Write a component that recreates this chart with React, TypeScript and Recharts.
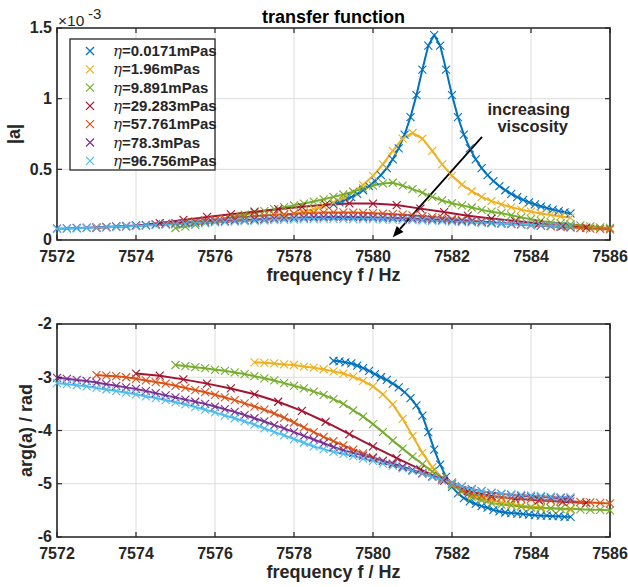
import { LineChart, Line, XAxis, YAxis, CartesianGrid, ReferenceArea, ReferenceLine } from 'recharts'

const FONT = '"Liberation Sans", Arial, Helvetica, sans-serif'
const INK = '#262626'
const GRID = '#dcdcdc'

const freqTicks = [7572, 7574, 7576, 7578, 7580, 7582, 7584, 7586]
const magTicks = [0, 0.5, 1, 1.5]
const phaseTicks = [-6, -5, -4, -3, -2]

const viscosities = ['0.0171', '1.96', '9.891', '29.283', '57.761', '78.3', '96.756']
const colors = ['#0072BD', '#EDB120', '#77AC30', '#A2142F', '#D95319', '#7E2F8E', '#4DBEEE']

// first frequency and spacing of each sweep (Hz)
const sweepStart = [7579, 7577, 7575, 7574, 7573, 7572, 7572]
const sweepStep = [0.15, 0.25, 0.25, 0.6, 0.25, 0.25, 0.25]

// |a| in units of 1e-3
const magBlue = [0.252, 0.267, 0.284, 0.304, 0.326, 0.352, 0.381, 0.417, 0.459, 0.509, 0.571, 0.648, 0.746, 0.87, 1.025, 1.206, 1.376, 1.45, 1.376, 1.206, 1.025, 0.87, 0.746, 0.648, 0.571, 0.509, 0.459, 0.417, 0.381, 0.352, 0.326, 0.304, 0.284, 0.267, 0.252, 0.238, 0.226, 0.215, 0.205, 0.196, 0.188]
const magYellow = [0.14, 0.148, 0.159, 0.17, 0.184, 0.199, 0.218, 0.239, 0.266, 0.298, 0.339, 0.389, 0.454, 0.535, 0.63, 0.718, 0.757, 0.718, 0.63, 0.535, 0.454, 0.392, 0.345, 0.305, 0.275, 0.252, 0.232, 0.215, 0.2, 0.188, 0.177, 0.167, 0.158]
const magGreen = [0.085, 0.095, 0.107, 0.12, 0.135, 0.15, 0.165, 0.18, 0.193, 0.205, 0.218, 0.232, 0.245, 0.258, 0.272, 0.288, 0.305, 0.322, 0.342, 0.365, 0.385, 0.4, 0.405, 0.385, 0.36, 0.335, 0.305, 0.28, 0.26, 0.245, 0.23, 0.213, 0.2, 0.19, 0.175, 0.16, 0.147, 0.135, 0.125, 0.118, 0.11, 0.104, 0.097, 0.09, 0.085]
const magRed = [0.1, 0.12, 0.142, 0.163, 0.182, 0.2, 0.218, 0.235, 0.25, 0.259, 0.258, 0.247, 0.222, 0.198, 0.172, 0.152, 0.134, 0.116, 0.098, 0.088]
const magOrange = [0.085, 0.089, 0.093, 0.097, 0.101, 0.106, 0.11, 0.115, 0.12, 0.126, 0.132, 0.138, 0.144, 0.15, 0.156, 0.162, 0.168, 0.173, 0.178, 0.182, 0.186, 0.189, 0.192, 0.194, 0.195, 0.195, 0.194, 0.192, 0.19, 0.187, 0.183, 0.179, 0.174, 0.168, 0.162, 0.156, 0.15, 0.143, 0.137, 0.131, 0.125, 0.12, 0.115, 0.11, 0.105, 0.101, 0.096, 0.092, 0.088, 0.085, 0.081, 0.078, 0.075]
const magPurple = [0.08, 0.082, 0.085, 0.087, 0.09, 0.093, 0.096, 0.099, 0.102, 0.105, 0.108, 0.112, 0.115, 0.119, 0.122, 0.126, 0.13, 0.134, 0.138, 0.141, 0.145, 0.148, 0.151, 0.154, 0.157, 0.159, 0.161, 0.162, 0.163, 0.163, 0.162, 0.161, 0.16, 0.158, 0.156, 0.154, 0.152, 0.149, 0.145, 0.142, 0.138, 0.134, 0.13, 0.126, 0.122, 0.118, 0.114, 0.111, 0.107, 0.104, 0.101, 0.098, 0.095]
const magLightBlue = [0.078, 0.08, 0.083, 0.085, 0.088, 0.091, 0.093, 0.096, 0.099, 0.102, 0.105, 0.108, 0.111, 0.114, 0.118, 0.121, 0.124, 0.127, 0.13, 0.133, 0.136, 0.138, 0.141, 0.143, 0.145, 0.147, 0.148, 0.149, 0.149, 0.149, 0.148, 0.148, 0.147, 0.145, 0.144, 0.142, 0.14, 0.138, 0.135, 0.133, 0.13, 0.127, 0.124, 0.121, 0.118, 0.115, 0.112, 0.109, 0.106, 0.104, 0.101, 0.098, 0.096]

// arg(a) in rad
const phBlue = [-2.69, -2.7, -2.72, -2.74, -2.78, -2.83, -2.88, -2.94, -3.0, -3.05, -3.12, -3.19, -3.28, -3.39, -3.53, -3.72, -4.03, -4.36, -4.64, -4.87, -5.06, -5.18, -5.27, -5.33, -5.38, -5.42, -5.45, -5.49, -5.52, -5.54, -5.55, -5.56, -5.57, -5.58, -5.59, -5.6, -5.6, -5.61, -5.61, -5.62, -5.62]
const phYellow = [-2.72, -2.73, -2.74, -2.76, -2.77, -2.8, -2.82, -2.85, -2.89, -2.93, -2.99, -3.07, -3.17, -3.32, -3.51, -3.78, -4.1, -4.42, -4.69, -4.89, -5.03, -5.13, -5.21, -5.27, -5.31, -5.35, -5.38, -5.41, -5.43, -5.44, -5.46, -5.47, -5.49]
const phGreen = [-2.77, -2.79, -2.81, -2.83, -2.86, -2.88, -2.91, -2.94, -2.98, -3.02, -3.06, -3.11, -3.16, -3.21, -3.27, -3.33, -3.41, -3.5, -3.62, -3.74, -3.88, -4.03, -4.19, -4.34, -4.49, -4.63, -4.77, -4.88, -5.01, -5.15, -5.25, -5.31, -5.36, -5.39, -5.41, -5.43, -5.45, -5.46, -5.46, -5.47, -5.47, -5.48, -5.49, -5.49, -5.5]
const phRed = [-2.93, -2.97, -3.04, -3.12, -3.21, -3.32, -3.46, -3.63, -3.84, -4.07, -4.3, -4.52, -4.73, -4.94, -5.14, -5.23, -5.28, -5.31, -5.34, -5.36]
const phOrange = [-2.96, -2.97, -2.98, -3.0, -3.03, -3.06, -3.09, -3.12, -3.16, -3.2, -3.24, -3.28, -3.33, -3.38, -3.43, -3.49, -3.55, -3.61, -3.68, -3.76, -3.85, -3.94, -4.03, -4.12, -4.2, -4.28, -4.36, -4.43, -4.5, -4.57, -4.63, -4.69, -4.75, -4.81, -4.87, -4.93, -5.0, -5.12, -5.19, -5.23, -5.25, -5.26, -5.27, -5.28, -5.29, -5.3, -5.31, -5.32, -5.33, -5.34, -5.35, -5.36, -5.37]
const phPurple = [-3.01, -3.03, -3.05, -3.07, -3.1, -3.13, -3.16, -3.19, -3.22, -3.26, -3.3, -3.34, -3.38, -3.42, -3.46, -3.5, -3.55, -3.6, -3.65, -3.71, -3.77, -3.83, -3.9, -3.96, -4.03, -4.1, -4.17, -4.24, -4.31, -4.37, -4.42, -4.47, -4.52, -4.57, -4.62, -4.68, -4.74, -4.8, -4.86, -4.92, -4.98, -5.05, -5.1, -5.14, -5.17, -5.19, -5.21, -5.23, -5.24, -5.25, -5.26, -5.27, -5.28]
const phLightBlue = [-3.11, -3.13, -3.15, -3.17, -3.2, -3.23, -3.26, -3.29, -3.32, -3.36, -3.39, -3.43, -3.47, -3.51, -3.56, -3.61, -3.66, -3.72, -3.77, -3.83, -3.89, -3.96, -4.03, -4.09, -4.16, -4.23, -4.3, -4.35, -4.4, -4.44, -4.48, -4.53, -4.57, -4.62, -4.66, -4.71, -4.76, -4.81, -4.87, -4.93, -4.99, -5.05, -5.11, -5.14, -5.17, -5.19, -5.2, -5.21, -5.22, -5.23, -5.24, -5.25, -5.25]

const magSeries = [magBlue, magYellow, magGreen, magRed, magOrange, magPurple, magLightBlue]
const phaseSeries = [phBlue, phYellow, phGreen, phRed, phOrange, phPurple, phLightBlue]

const toPoints = (k: number, ys: number[]) =>
  ys.map((y, i) => ({ f: +(sweepStart[k] + i * sweepStep[k]).toFixed(3), y }))

const W = 628
const LEFT = 57
const RIGHT = 610
const TOP = 28
const XAXIS_H = 50

const cross = (color: string, r: number) => (props: any) => {
  const { cx, cy, index } = props
  if (cx == null || cy == null) return <g key={index} />
  return (
    <path
      key={index}
      d={`M${cx - r},${cy - r}L${cx + r},${cy + r}M${cx - r},${cy + r}L${cx + r},${cy - r}`}
      stroke={color}
      strokeWidth={1.1}
      fill="none"
    />
  )
}

const xTick = (bottom: number) => (props: any) => {
  const { x, payload } = props
  return (
    <g>
      <line x1={x} x2={x} y1={bottom} y2={bottom - 5} stroke={INK} strokeWidth={1.2} />
      <line x1={x} x2={x} y1={TOP} y2={TOP + 5} stroke={INK} strokeWidth={1.2} />
      <text x={x} y={bottom + 22} textAnchor="middle" fontFamily={FONT} fontWeight="bold" fontSize={16} fill={INK}>
        {payload.value}
      </text>
    </g>
  )
}

const yTick = (props: any) => {
  const { y, payload } = props
  return (
    <g>
      <line x1={LEFT} x2={LEFT + 5} y1={y} y2={y} stroke={INK} strokeWidth={1.2} />
      <line x1={RIGHT} x2={RIGHT - 5} y1={y} y2={y} stroke={INK} strokeWidth={1.2} />
      <text x={LEFT - 5} y={y} dy="0.34em" textAnchor="end" fontFamily={FONT} fontWeight="bold" fontSize={16} fill={INK}>
        {payload.value}
      </text>
    </g>
  )
}

const arrowShape = (props: any) => {
  const { x1, y1, x2, y2 } = props
  const ang = Math.atan2(y2 - y1, x2 - x1)
  const len = 11
  const hw = 4.5
  const bx = x2 - len * Math.cos(ang)
  const by = y2 - len * Math.sin(ang)
  const px = -Math.sin(ang) * hw
  const py = Math.cos(ang) * hw
  return (
    <g>
      <line x1={x1} y1={y1} x2={bx} y2={by} stroke="#000" strokeWidth={1.8} />
      <polygon points={`${x2},${y2} ${bx + px},${by + py} ${bx - px},${by - py}`} fill="#000" />
      <text x={x1 + 88} y={y1 - 22} textAnchor="end" fontFamily={FONT} fontWeight="bold" fontSize={16.5} fill={INK}>
        increasing
      </text>
      <text x={x1 + 86} y={y1 - 5} textAnchor="end" fontFamily={FONT} fontWeight="bold" fontSize={16.5} fill={INK}>
        viscosity
      </text>
    </g>
  )
}

function Panel({ height, series, domain, ticks, arrow }: any) {
  const bottom = height - XAXIS_H
  return (
    <LineChart width={W} height={height} margin={{ top: TOP, right: W - RIGHT, bottom: 0, left: 0 }}>
      <CartesianGrid stroke={GRID} strokeWidth={1} />
      <XAxis
        type="number"
        dataKey="f"
        domain={[7572, 7586]}
        ticks={freqTicks}
        interval={0}
        height={XAXIS_H}
        axisLine={false}
        tickLine={false}
        tick={xTick(bottom)}
      />
      <YAxis
        type="number"
        dataKey="y"
        domain={domain}
        ticks={ticks}
        interval={0}
        width={LEFT}
        axisLine={false}
        tickLine={false}
        tick={yTick}
      />
      {series.map((ys: number[], k: number) => (
        <Line
          key={viscosities[k]}
          data={toPoints(k, ys)}
          dataKey="y"
          type="linear"
          stroke={colors[k]}
          strokeWidth={2}
          dot={cross(colors[k], 4)}
          activeDot={false}
          isAnimationActive={false}
        />
      ))}
      {arrow && (
        <ReferenceLine
          segment={[
            { x: 7582.76, y: 0.73 },
            { x: 7580.5, y: 0.02 },
          ]}
          shape={arrowShape}
        />
      )}
      <ReferenceArea
        x1={7572}
        x2={7586}
        y1={domain[0]}
        y2={domain[1]}
        fill="none"
        fillOpacity={0}
        stroke={INK}
        strokeWidth={1.6}
      />
    </LineChart>
  )
}

export default function App() {
  const legendTop = 39
  const rowH = 18.3
  return (
    <div style={{ position: 'absolute', left: 0, top: 0, width: W, height: 587, background: '#fff' }}>
      <div style={{ position: 'absolute', left: 0, top: 0 }}>
        <Panel height={290} series={magSeries} domain={[0, 1.5]} ticks={magTicks} arrow />
      </div>
      <div style={{ position: 'absolute', left: 0, top: 296 }}>
        <Panel height={291} series={phaseSeries} domain={[-6, -2]} ticks={phaseTicks} />
      </div>
      <svg width={W} height={587} style={{ position: 'absolute', left: 0, top: 0, pointerEvents: 'none' }}>
        <text x={333.5} y={23} textAnchor="middle" fontFamily={FONT} fontWeight="bold" fontSize={18} fill="#000">
          transfer function
        </text>
        <text x={58} y={26} fontFamily={FONT} fontSize={15.5} fill={INK}>
          ×10
        </text>
        <text x={88} y={19} fontFamily={FONT} fontSize={15} fill={INK}>
          -3
        </text>
        <text transform="translate(14,134) rotate(-90)" textAnchor="middle" dy="0.35em" fontFamily={FONT} fontWeight="bold" fontSize={18} fill={INK}>
          |a|
        </text>
        <text x={333.5} y={281} textAnchor="middle" fontFamily={FONT} fontWeight="bold" fontSize={18} fill={INK}>
          frequency f / Hz
        </text>
        <text transform="translate(26,430.5) rotate(-90)" textAnchor="middle" dy="0.35em" fontFamily={FONT} fontWeight="bold" fontSize={18} fill={INK}>
          arg(a) / rad
        </text>
        <text x={333.5} y={578} textAnchor="middle" fontFamily={FONT} fontWeight="bold" fontSize={18} fill={INK}>
          frequency f / Hz
        </text>

        <rect x={70} y={legendTop} width={145} height={131} fill="#fff" stroke={INK} strokeWidth={1.3} />
        {viscosities.map((v, i) => {
          const cy = legendTop + 12 + i * rowH
          const r = 4
          return (
            <g key={v}>
              <path d={`M${90 - r},${cy - r}L${90 + r},${cy + r}M${90 - r},${cy + r}L${90 + r},${cy - r}`} stroke={colors[i]} strokeWidth={1.2} />
              <text x={113} y={cy + 5} fontFamily={FONT} fontWeight="bold" fontSize={15} fill={INK}>
                <tspan fontFamily='"DejaVu Serif", "Liberation Serif", serif' fontStyle="italic" fontWeight="normal">
                  η
                </tspan>
                <tspan>{`=${v}mPas`}</tspan>
              </text>
            </g>
          )
        })}
      </svg>
    </div>
  )
}
